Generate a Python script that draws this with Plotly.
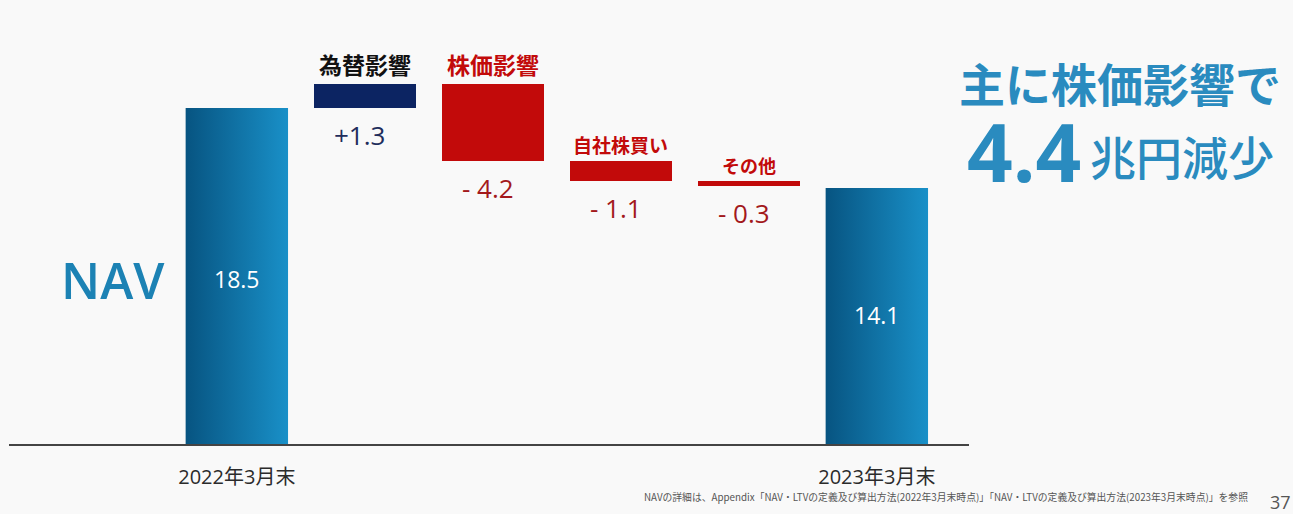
import numpy as np
import plotly.graph_objects as go

# NAV bridge (兆円)
nav_labels = ["2022年3月末", "為替影響", "株価影響", "自社株買い", "その他", "2023年3月末"]
nav_start = 18.5
nav_end = 14.1
changes = [1.3, -4.2, -1.1, -0.3]
change_text = ["+1.3", "- 4.2", "- 1.1", "- 0.3"]
tick_labels = ["2022年3月末", "2023年3月末"]

JP = "Noto Sans CJK JP"
MIX = "Open Sans, Noto Sans CJK JP"
NAVY = "#0c2462"
RED = "#c20a0a"
DARK_RED = "#a3191c"
TEAL = "#1c82b4"
BAR_W = 0.8
W, H = 1293, 514

x_pos = np.arange(len(nav_labels))
levels = nav_start + np.cumsum(changes)
prev = np.concatenate([[nav_start], levels[:-1]])
bases = np.minimum(prev, levels)
heights = np.abs(changes)
change_x = x_pos[1:-1]
change_colors = [NAVY if c > 0 else RED for c in changes]

fig = go.Figure()

# opening / closing NAV columns with a horizontal gradient fill
for xi, val in [(x_pos[0], nav_start), (x_pos[-1], nav_end)]:
    xl, xr = xi - BAR_W / 2, xi + BAR_W / 2
    fig.add_trace(go.Scatter(
        x=[xl, xr, xr, xl, xl], y=[0, 0, val, val, 0],
        mode="lines", line=dict(width=0), fill="toself",
        fillcolor="#1276aa",
        fillgradient=dict(type="horizontal",
                          colorscale=[[0, "#075481"], [1, "#1990c8"]]),
        hoverinfo="skip", showlegend=False,
    ))

# floating change bars
fig.add_trace(go.Bar(
    x=change_x, y=heights, base=bases, width=BAR_W,
    marker=dict(color=change_colors, line=dict(width=0)),
    showlegend=False, hoverinfo="skip",
))


def px_note(x, y, text, size, color, xanchor="center", family=MIX, weight=None):
    """Annotation placed by pixel position on the page."""
    font = dict(family=family, size=size, color=color)
    if weight:
        font["weight"] = weight
    return dict(xref="paper", yref="paper", x=x / W, y=1 - y / H,
                xanchor=xanchor, yanchor="middle", text=text,
                font=font, showarrow=False)


ann = []
# values inside the NAV columns
ann.append(dict(x=x_pos[0], y=nav_start * 0.5 - 0.15, text=f"{nav_start}",
                xanchor="center", yanchor="middle",
                font=dict(family=MIX, size=23, color="white"), showarrow=False))
ann.append(dict(x=x_pos[-1], y=nav_end * 0.5 + 0.05, text=f"{nav_end}",
                xanchor="center", yanchor="middle",
                font=dict(family=MIX, size=23, color="white"), showarrow=False))

# category names above, values below each change bar
name_style = [
    (23, "#111111"),
    (23, RED),
    (19, RED),
    (18, RED),
]
val_colors = ["#1f2d5c", DARK_RED, DARK_RED, DARK_RED]
for i, xi in enumerate(change_x):
    top = bases[i] + heights[i]
    bot = bases[i]
    size, col = name_style[i]
    ann.append(dict(x=xi, y=top, xanchor="center", yanchor="bottom", yshift=1,
                    text=f"<b>{nav_labels[xi]}</b>",
                    font=dict(family=JP, size=size, color=col), showarrow=False))
    ann.append(dict(x=xi - 0.04, y=bot, xanchor="center", yanchor="top",
                    yshift=-7, text=change_text[i],
                    font=dict(family=MIX, size=26, color=val_colors[i]),
                    showarrow=False))

# side labels
ann.append(px_note(113, 280, "NAV", 50, TEAL, weight=600))
ann.append(px_note(1120, 84, "<b>主に株価影響で</b>", 46, "#2a8bbf"))
ann.append(px_note(1083, 150, "<b>4.4</b>", 80, "#2a8bbf", xanchor="right"))
ann.append(px_note(1088, 157, "兆円減少", 46, "#2a8bbf", xanchor="left",
                   weight=500))

# footnote and page number
ann.append(px_note(1250, 497,
                   "NAVの詳細は、Appendix「NAV・LTVの定義及び算出方法(2022年3月末時点)」"
                   "「NAV・LTVの定義及び算出方法(2023年3月末時点)」を参照",
                   9.8, "#555555", xanchor="right", family=JP))
ann.append(px_note(1280, 502, "37", 18, "#555555"))

fig.update_layout(
    width=W, height=H,
    margin=dict(l=0, r=0, t=0, b=0),
    paper_bgcolor="#f9f9f9", plot_bgcolor="rgba(0,0,0,0)",
    annotations=ann,
    xaxis=dict(domain=[9 / W, 969 / W], range=[-1.78, 5.72],
               showgrid=False, zeroline=False,
               showline=True, linecolor="#444444", linewidth=2,
               tickvals=[x_pos[0], x_pos[-1]], ticktext=tick_labels,
               ticks="", ticklabelstandoff=14,
               tickfont=dict(family=MIX, size=20, color="#2b2b2b")),
    yaxis=dict(domain=[1 - 444 / H, 1], range=[0, 24.45],
               showgrid=False, zeroline=False, showticklabels=False,
               showline=False),
    bargap=0,
)

fig.write_html("out.html")
